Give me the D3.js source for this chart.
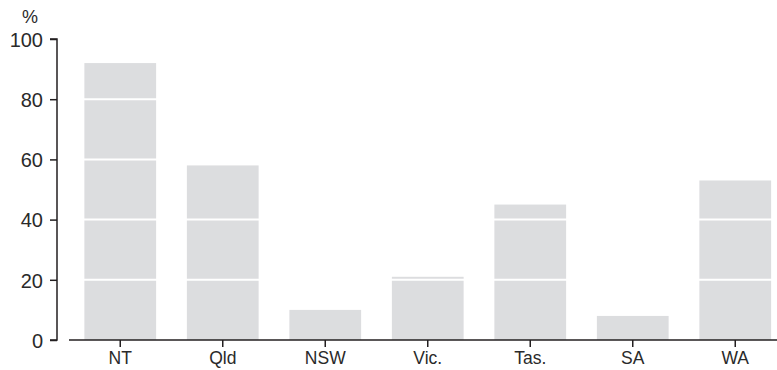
<!DOCTYPE html>
<meta charset="utf-8">
<script src="https://cdn.jsdelivr.net/npm/d3@7"></script>
<style>
body { margin: 0; background: #fff; }
text { font-family: "Liberation Sans", Arial, sans-serif; fill: #2a2a2a; }
</style>
<body>
<script>
var states = ["NT", "Qld", "NSW", "Vic.", "Tas.", "SA", "WA"];
var values = [92, 58, 10, 21, 45, 8, 53];
var yTicks = [0, 20, 40, 60, 80, 100];

var width = 777, height = 370;

var svg = d3.select("body").append("svg")
    .attr("width", width)
    .attr("height", height);

var x = d3.scaleBand()
    .domain(states)
    .range([69, 786.5])
    .paddingInner(0.3)
    .paddingOuter(0.15);

var y = d3.scaleLinear()
    .domain([0, 100])
    .range([340, 39]);

// bars
svg.append("g").selectAll("rect")
    .data(values)
    .enter().append("rect")
    .attr("x", function(d, i) { return x(states[i]); })
    .attr("y", function(d) { return y(d); })
    .attr("width", x.bandwidth())
    .attr("height", function(d) { return y(0) - y(d); })
    .attr("fill", "#dcdddf");

// white gridlines over bars
svg.append("g").selectAll("line")
    .data(yTicks.filter(function(d) { return d > 0 && d < 100; }))
    .enter().append("line")
    .attr("x1", 69).attr("x2", width)
    .attr("y1", function(d) { return y(d); })
    .attr("y2", function(d) { return y(d); })
    .attr("stroke", "#fff")
    .attr("stroke-width", 2);

// y axis
var yAxis = svg.append("g")
    .attr("transform", "translate(57,0)")
    .call(d3.axisLeft(y).tickValues(yTicks).tickSize(7).tickPadding(7));
yAxis.attr("font-size", null).attr("font-family", null);
yAxis.select(".domain").attr("stroke", "#231f20").attr("stroke-width", 1.5)
    .attr("d", "M-7," + y(100) + "H0V" + y(0) + "H-7");
yAxis.selectAll(".tick line").attr("stroke", "#231f20").attr("stroke-width", 1.5);
yAxis.selectAll("text").style("font-size", "20px").attr("dy", "0.36em")
    .attr("fill", "#2a2a2a");

// x axis
var xAxis = svg.append("g")
    .attr("transform", "translate(0,340)")
    .call(d3.axisBottom(x).tickSize(7).tickPadding(5));
xAxis.attr("font-size", null).attr("font-family", null);
xAxis.select(".domain").attr("stroke", "#231f20").attr("stroke-width", 1.5)
    .attr("d", "M69,0H" + width);
xAxis.selectAll(".tick line").attr("stroke", "#231f20").attr("stroke-width", 1.5);
xAxis.selectAll("text").style("font-size", "17.5px").attr("fill", "#2a2a2a");

svg.append("text")
    .attr("x", 30)
    .attr("y", 23)
    .attr("text-anchor", "middle")
    .style("font-size", "18px")
    .text("%");
</script>
</body>
